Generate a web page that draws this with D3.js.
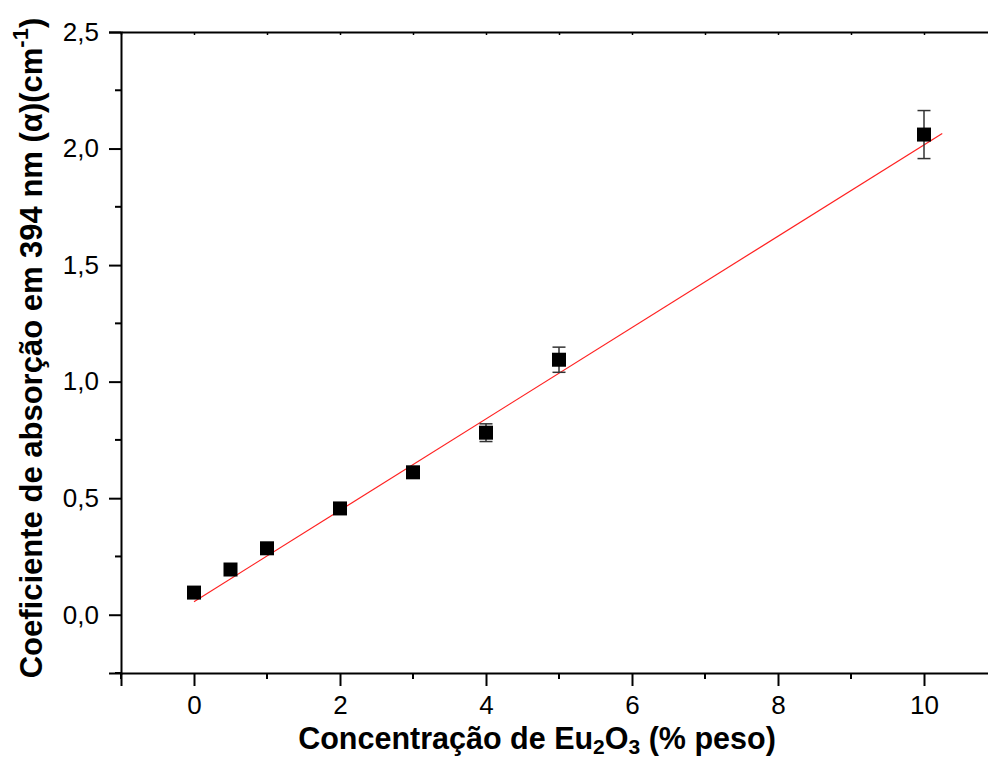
<!DOCTYPE html>
<html>
<head>
<meta charset="utf-8">
<script src="https://cdn.jsdelivr.net/npm/d3@7"></script>
<style>
  html, body { margin: 0; padding: 0; background: #fff; }
  svg { display: block; font-family: "Liberation Sans", Arial, sans-serif; }
</style>
</head>
<body>
<svg id="chart" width="988" height="759"></svg>
<script>
// Data
const concentration = [0, 0.5, 1, 2, 3, 4, 5, 10];
const absorption = [0.095, 0.194, 0.285, 0.456, 0.611, 0.781, 1.094, 2.06];
const errors = [0.01, 0.01, 0.01, 0.01, 0.012, 0.038, 0.054, 0.103];
const fitX = [0, 10.25];
const fitIntercept = 0.056;
const fitSlope = 0.196;
const xTicks = [0, 2, 4, 6, 8, 10];
const yTicks = [0, 0.5, 1.0, 1.5, 2.0, 2.5];

const svg = d3.select("#chart");
const x = d3.scaleLinear().domain([-1, 11]).range([121, 997]);
const y = d3.scaleLinear().domain([-0.25, 2.5]).range([673, 32]);
const fmt = d => d3.format(".1f")(d).replace(".", ",");

// Left axis
const yAxis = d3.axisLeft(y).tickValues(yTicks).tickFormat(fmt).tickSize(12).tickPadding(10);
const gy = svg.append("g").attr("transform", `translate(${x(-1)},0)`).call(yAxis);
gy.select(".domain").attr("stroke-width", 2);
gy.selectAll(".tick line").attr("stroke-width", 2);
gy.selectAll(".tick text").attr("font-size", 26).attr("fill", "#000");
const yMinor = d3.range(-0.25, 2.5, 0.5);
gy.selectAll(".minor").data(yMinor).enter().append("line")
  .attr("x1", 0).attr("x2", -6).attr("y1", d => y(d)).attr("y2", d => y(d))
  .attr("stroke", "#000").attr("stroke-width", 2);

// Bottom axis
const xAxis = d3.axisBottom(x).tickValues(xTicks).tickFormat(d3.format("d")).tickSize(13).tickPadding(10);
const gx = svg.append("g").attr("transform", `translate(0,${y(-0.25)})`).call(xAxis);
gx.select(".domain").attr("stroke-width", 2);
gx.selectAll(".tick line").attr("stroke-width", 2);
gx.selectAll(".tick text").attr("font-size", 26).attr("fill", "#000");
const xMinor = d3.range(-1, 12, 2);
gx.selectAll(".minor").data(xMinor).enter().append("line")
  .attr("x1", d => x(d)).attr("x2", d => x(d)).attr("y1", 0).attr("y2", 6)
  .attr("stroke", "#000").attr("stroke-width", 2);

// Top axis
const xTop = d3.axisTop(x).tickValues(d3.range(-1, 12, 1)).tickFormat("").tickSizeInner(-3).tickSizeOuter(0);
const gt = svg.append("g").attr("transform", `translate(0,${y(2.5)})`).call(xTop);
gt.select(".domain").attr("stroke-width", 2);
gt.selectAll(".tick line").attr("stroke-width", 1.5);

// Fit line
svg.append("line")
  .attr("x1", x(fitX[0])).attr("y1", y(fitIntercept + fitSlope * fitX[0]))
  .attr("x2", x(fitX[1])).attr("y2", y(fitIntercept + fitSlope * fitX[1]))
  .attr("stroke", "#ff2020").attr("stroke-width", 1.2);

// Error bars
const pts = concentration.map((c, i) => ({c, v: absorption[i], e: errors[i]}));
const eb = svg.append("g").attr("stroke", "#333").attr("stroke-width", 1.5);
pts.forEach(p => {
  eb.append("line").attr("x1", x(p.c)).attr("x2", x(p.c)).attr("y1", y(p.v - p.e)).attr("y2", y(p.v + p.e));
  [p.v - p.e, p.v + p.e].forEach(v => {
    eb.append("line").attr("x1", x(p.c) - 6.5).attr("x2", x(p.c) + 6.5).attr("y1", y(v)).attr("y2", y(v));
  });
});

// Markers
svg.append("g").selectAll("rect").data(pts).enter().append("rect")
  .attr("x", d => x(d.c) - 7).attr("y", d => y(d.v) - 7)
  .attr("width", 14).attr("height", 14).attr("fill", "#000");

// X title
const xt = svg.append("text").attr("x", 537).attr("y", 749).attr("text-anchor", "middle")
  .attr("font-size", 30.5).attr("font-weight", "bold").attr("fill", "#000");
xt.append("tspan").text("Concentração de Eu");
xt.append("tspan").attr("font-size", 21).attr("dy", 5).text("2");
xt.append("tspan").attr("dy", -5).text("O");
xt.append("tspan").attr("font-size", 21).attr("dy", 5).text("3");
xt.append("tspan").attr("dy", -5).text(" (% peso)");

// Y title
const yt = svg.append("text").attr("transform", "translate(42,348) rotate(-90)").attr("text-anchor", "middle")
  .attr("font-size", 31).attr("font-weight", "bold").attr("fill", "#000");
yt.append("tspan").text("Coeficiente de absorção em 394 nm (α)(cm");
yt.append("tspan").attr("font-size", 22).attr("dy", -14).text("-1");
yt.append("tspan").attr("dy", 14).text(")");
</script>
</body>
</html>
